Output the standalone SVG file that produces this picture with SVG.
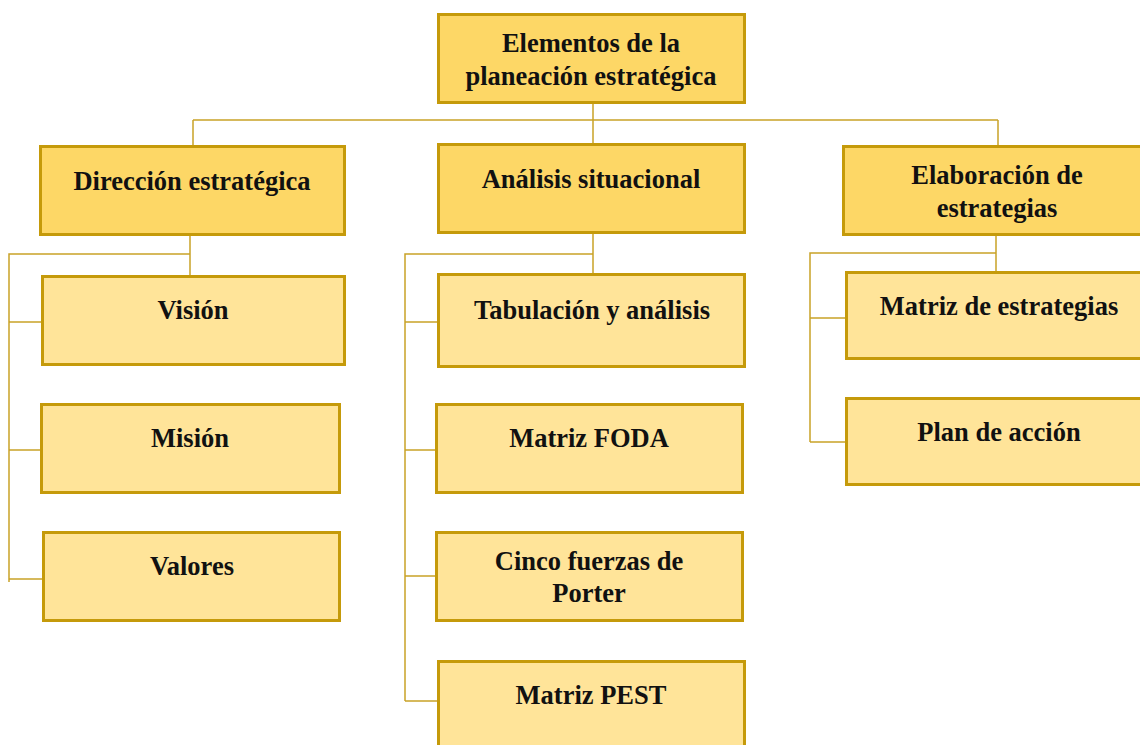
<svg xmlns="http://www.w3.org/2000/svg" width="1140" height="745" viewBox="0 0 1140 745">
<style>
.l0{fill:#FDD766;stroke:#C59A0A;stroke-width:3}
.l1{fill:#FDD766;stroke:#C59A0A;stroke-width:3}
.l2{fill:#FFE499;stroke:#C59A0A;stroke-width:3}
.t{font-family:"Liberation Serif","Times New Roman",serif;font-weight:bold;font-size:26.5px;fill:#111;text-anchor:middle}
.c{fill:none;stroke:#C9A227;stroke-width:1.5}
</style>
<rect width="1140" height="745" fill="#fff"/>
<g id="connectors">
<path class="c" d="M593,102V144M193,120H998M193,120V146M998,120V146"/>
<path class="c" d="M190,234V276M190,254H9V582M9,322H42M9,450H41M9,579H43"/>
<path class="c" d="M593,232V274M593,254H405V701M405,322H438M405,450H436M405,576H436M405,701H438"/>
<path class="c" d="M996,234V272M996,253H810V442M810,318H846M810,442H846"/>
</g>
<g id="n-root"><rect class="l0" x="438.5" y="14.5" width="306" height="88"/><text class="t" x="591" y="52">Elementos de la</text><text class="t" x="591" y="85">planeación estratégica</text></g>
<g id="n-direccion"><rect class="l1" x="40.5" y="146.5" width="304" height="88"/><text class="t" x="192" y="190">Dirección estratégica</text></g>
<g id="n-analisis"><rect class="l1" x="438.5" y="144.5" width="306" height="88"/><text class="t" x="591" y="188">Análisis situacional</text></g>
<g id="n-elaboracion"><rect class="l1" x="843.5" y="146.5" width="310" height="88"/><text class="t" x="997" y="184">Elaboración de</text><text class="t" x="997" y="217">estrategias</text></g>
<g id="n-vision"><rect class="l2" x="42.5" y="276.5" width="302" height="88"/><text class="t" x="193" y="319">Visión</text></g>
<g id="n-mision"><rect class="l2" x="41.5" y="404.5" width="298" height="88"/><text class="t" x="190" y="447">Misión</text></g>
<g id="n-valores"><rect class="l2" x="43.5" y="532.5" width="296" height="88"/><text class="t" x="192" y="575">Valores</text></g>
<g id="n-tabulacion"><rect class="l2" x="438.5" y="274.5" width="306" height="92"/><text class="t" x="592" y="319">Tabulación y análisis</text></g>
<g id="n-foda"><rect class="l2" x="436.5" y="404.5" width="306" height="88"/><text class="t" x="589" y="447">Matriz FODA</text></g>
<g id="n-porter"><rect class="l2" x="436.5" y="532.5" width="306" height="88"/><text class="t" x="589" y="570">Cinco fuerzas de</text><text class="t" x="589" y="602">Porter</text></g>
<g id="n-pest"><rect class="l2" x="438.5" y="661.5" width="306" height="92"/><text class="t" x="591" y="704">Matriz PEST</text></g>
<g id="n-matriz-estrategias"><rect class="l2" x="846.5" y="272.5" width="310" height="86"/><text class="t" x="999" y="315">Matriz de estrategias</text></g>
<g id="n-plan"><rect class="l2" x="846.5" y="398.5" width="310" height="86"/><text class="t" x="999" y="441">Plan de acción</text></g>
</svg>
